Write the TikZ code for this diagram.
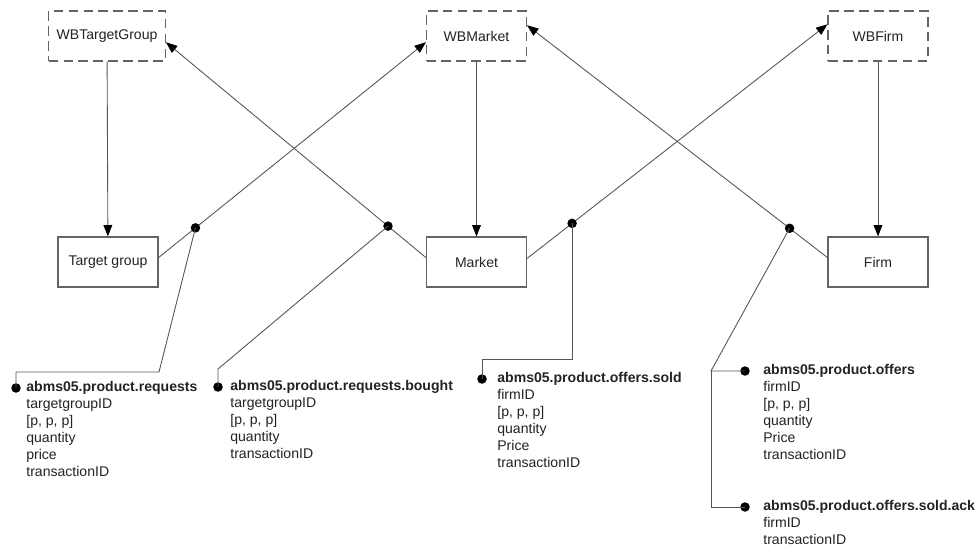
\documentclass[tikz,border=0pt]{standalone}
\usepackage{fontspec}
\setmainfont{Liberation Sans}
\usepackage{tikz}
\usetikzlibrary{positioning,arrows.meta}
\definecolor{linegray}{RGB}{85,85,85}
\definecolor{boxgray}{RGB}{100,100,100}
\definecolor{txtgray}{RGB}{35,35,35}

\begin{document}
\begin{tikzpicture}[x=0.02cm, y=-0.02cm,
    every node/.style={font=\fontsize{8}{9.65}\selectfont, text=txtgray},
    agent/.style={draw=boxgray, line width=0.65pt, minimum width=2cm, minimum height=1cm, inner xsep=0.16cm},
    wbagent/.style={agent, dash pattern=on 5.5pt off 3pt},
    dot/.style={circle, fill=black, inner sep=0pt, minimum size=0.19cm},
    msg/.style={align=left, inner sep=0pt, anchor=north west},
    link/.style={draw=linegray, line width=0.5pt},
    flow/.style={link, -{Triangle[length=6.5pt,width=5pt,color=black]}}]
    \useasboundingbox (0,0) rectangle (977,547);
    % Whiteboards
    \node[wbagent] (wbtg) at (107,36) {WBTargetGroup};
    \node[wbagent] (wbmk) at (476.5,36) {WBMarket};
    \node[wbagent] (wbfm) at (878,36) {WBFirm};
    % Agents
    \node[agent] (tg) at (108,262) {Target group};
    \node[agent] (mk) at (476.5,262) {Market};
    \node[agent] (fm) at (878,262) {Firm};
    % Whiteboard to agent
    \draw[flow] (wbtg) -- (tg);
    \draw[flow] (wbmk) -- (mk);
    \draw[flow] (wbfm) -- (fm);
    % Agent to whiteboard
    \draw[flow] (tg.5) -- node[dot, pos=0.138] (d1) {} (wbmk.187);
    \draw[flow] (mk.175.5) -- node[dot, pos=0.146] (d2) {} (wbtg.354);
    \draw[flow] (mk.4.5) -- node[dot, pos=0.15] (d3) {} (wbfm.167.6);
    \draw[flow] (fm.175.4) -- node[dot, pos=0.126] (d4) {} (wbmk.12.3);
    % Message ends
    \node[dot] (e1) at (16,388) {};
    \node[dot] (e2) at (218,387) {};
    \node[dot] (e3) at (482,379) {};
    \node[dot] (e4) at (745,371) {};
    \node[dot] (e5) at (745,507) {};
    \coordinate (k1) at (159,372);
    \coordinate (k2) at (218,369);
    \coordinate (k3) at (482,359);
    \coordinate (k4) at (711,371);
    \draw[link] (d1.center) -- (k1) -| (e1.center);
    \draw[link] (d2.center) -- (k2) -- (e2.center);
    \draw[link] (d3.center) |- (k3) -- (e3.center);
    \draw[link] (d4.center) -- (k4) -- (e4.center);
    \draw[link] (k4) |- (e5.center);
    % Messages
    \node[msg] (m1) at (26,381) {\textbf{abms05.product.requests}\\targetgroupID\\{[p, p, p]}\\quantity\\price\\transactionID};
    \node[msg] (m2) at (230,380) {\textbf{abms05.product.requests.bought}\\targetgroupID\\{[p, p, p]}\\quantity\\transactionID};
    \node[msg] (m3) at (497,372) {\textbf{abms05.product.offers.sold}\\firmID\\{[p, p, p]}\\quantity\\Price\\transactionID};
    \node[msg] (m4) at (763,364) {\textbf{abms05.product.offers}\\firmID\\{[p, p, p]}\\quantity\\Price\\transactionID};
    \node[msg] (m5) at (763,500) {\textbf{abms05.product.offers.sold.ack}\\firmID\\transactionID};
\end{tikzpicture}
\end{document}
